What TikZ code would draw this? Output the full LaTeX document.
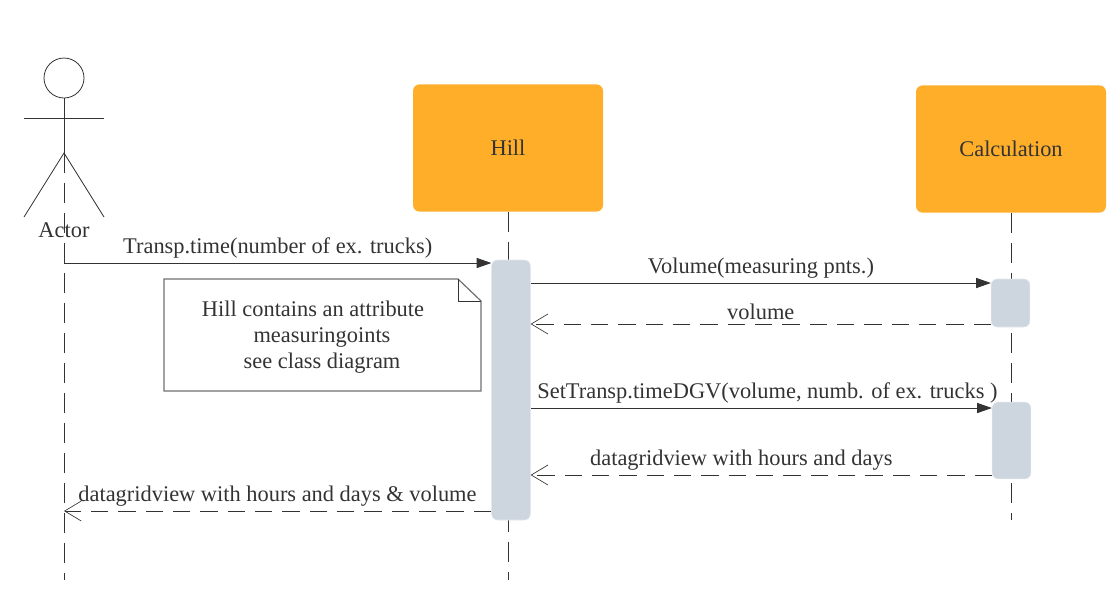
\documentclass[tikz,border=0pt]{standalone}
\usepackage{fontspec}
\setmainfont{Liberation Serif}
\usetikzlibrary{arrows.meta}
\definecolor{boxorange}{HTML}{FFAE2A}
\definecolor{barblue}{HTML}{CDD5DF}
\definecolor{inkdark}{HTML}{333333}
\tikzset{
  actorbox/.style={fill=boxorange,rounded corners=5pt,minimum width=142.5pt,minimum height=95.5pt,text=inkdark,font=\fontsize{16.8}{20}\selectfont},
  activebar/.style={fill=barblue,draw=barblue!60,rounded corners=4.5pt,minimum width=29pt,inner sep=0pt},
  lifeline/.style={draw=inkdark,line width=0.6pt,dash pattern=on 15pt off 7.5pt},
  callmsg/.style={draw=inkdark,line width=0.7pt,-{Triangle[length=11pt,width=7.5pt]}},
  backmsg/.style={draw=inkdark,line width=0.5pt,dash pattern=on 13pt off 7.5pt,-{Straight Barb[length=12.5pt,width=15pt,line width=0.5pt]}},
  msgtext/.style={above,inner sep=0pt,yshift=3pt,text=inkdark,font=\fontsize{16.8}{20}\selectfont},
}
\begin{document}
\begin{tikzpicture}[x=0.75pt,y=-0.75pt]
\useasboundingbox (0,0) rectangle (1113,611);

\node (hill) at (508,148) [actorbox]{Hill};
\node (calc) at (1011,149) [actorbox]{Calculation};

% actor
\node (head) at (64,78) [circle,draw=inkdark,line width=0.6pt,minimum size=30pt,inner sep=0pt]{};
\coordinate (hip) at (64,153);
\coordinate (armL) at (24,118);
\coordinate (armR) at (104,118);
\coordinate (footL) at (24,217);
\coordinate (footR) at (104,217);
\draw [draw=inkdark,line width=0.6pt] (head.south) -- (hip);
\draw [draw=inkdark,line width=0.6pt] (armL) -- (armR);
\draw [draw=inkdark,line width=0.6pt] (footL) -- (hip) -- (footR);
\node (actorname) at (64,230) [text=inkdark,inner sep=0pt,font=\fontsize{16.8}{20}\selectfont]{Actor};

% lifelines
\coordinate (actorend) at (64,580);
\coordinate (hillend) at (508,580);
\coordinate (calcend) at (1011,520);
\path [lifeline] (hip) -- (actorend);
\path [lifeline] (hill.south) -- (hillend);
\path [lifeline] (calc.south) -- (calcend);

% activations
\node (barA) at (511,390) [activebar,minimum height=195pt]{};
\node (barB) at (1010.5,303) [activebar,minimum height=36pt]{};
\node (barC) at (1011.5,440.5) [activebar,minimum height=57.5pt]{};

% note
\draw [draw=inkdark!70,line width=0.9pt] (164,279) -- (458,279) -- (481,301) -- (481,391) -- (164,391) -- cycle;
\draw [draw=inkdark,line width=0.6pt] (458,279) -- (458,301) -- (481,301);
\node (note) at (322,337) [align=center,text=inkdark,font=\fontsize{16.8}{19.5}\selectfont]{Hill contains an attribute\hspace*{13.5pt}\\measuringoints\\see class diagram};

% messages
\coordinate (m1) at (64,263);
\coordinate (m2) at (531,283);
\coordinate (m3) at (991,324);
\coordinate (m4) at (531,408);
\coordinate (m5) at (992,475);
\coordinate (m6) at (491,511);

\draw [callmsg] (m1) --node[msgtext] (t1) {Transp.time(number of ex. trucks)} (m1 -| barA.west);
\draw [callmsg] (m2) --node[msgtext] (t2) {Volume(measuring pnts.)} (m2 -| barB.west);
\draw [backmsg] (m3) --node[msgtext] (t3) {volume} (m3 -| barA.east);
\draw [callmsg] (m4) --node[msgtext,xshift=4.5pt] (t4) {SetTransp.timeDGV(volume, numb. of ex. trucks )} (m4 -| barC.west);
\draw [backmsg] (m5) --node[msgtext,xshift=-15pt] (t5) {datagridview with hours and days} (m5 -| barA.east);
\draw [backmsg] (m6) --node[msgtext] (t6) {datagridview with hours and days \& volume} (m6 -| actorend);

\end{tikzpicture}
\end{document}
